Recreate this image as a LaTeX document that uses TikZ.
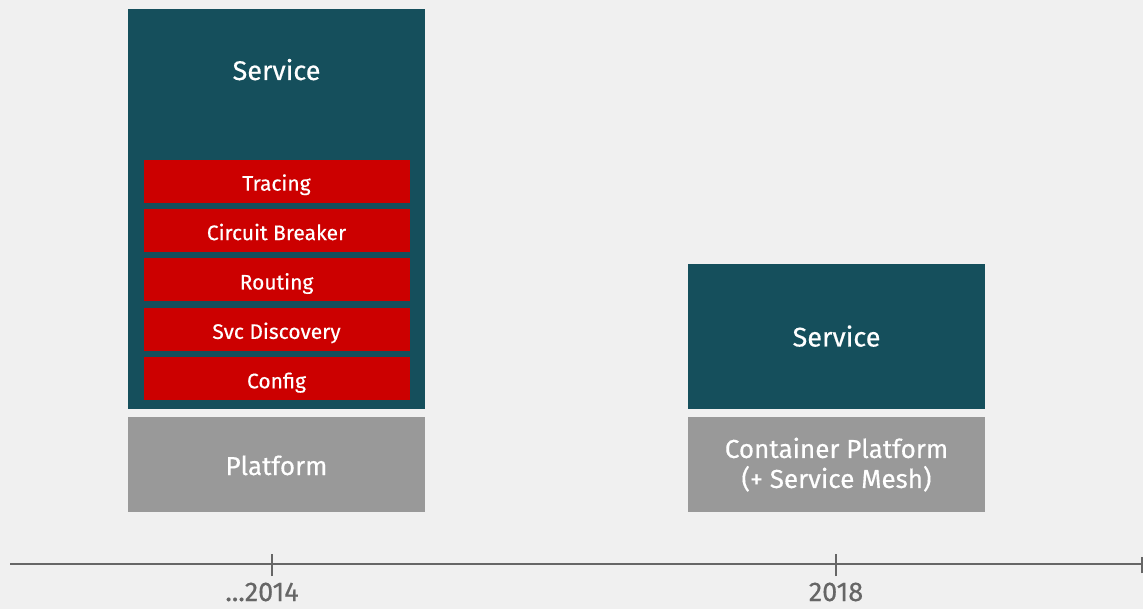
\documentclass[tikz,border=0pt]{standalone}
\usepackage{fontspec}
\setmainfont{Fira Sans}[FakeBold=0.4]
\usetikzlibrary{positioning}
\definecolor{svcteal}{HTML}{154F5C}
\definecolor{libred}{HTML}{CC0000}
\definecolor{platgray}{HTML}{999999}
\definecolor{bggray}{HTML}{F0F0F0}
\definecolor{axisgray}{HTML}{666666}
\tikzset{
	svcbox/.style={fill=svcteal, minimum width=297pt, inner sep=0pt, anchor=north},
	svctext/.style={text=white, anchor=base, font=\fontsize{27}{32}\selectfont},
	libbox/.style={fill=libred, text=white, minimum width=266pt, minimum height=43pt, inner sep=0pt, text height=19pt, text depth=0pt, font=\fontsize{21}{26}\selectfont},
	platbox/.style={fill=platgray, minimum width=297pt, minimum height=95pt, inner sep=0pt, anchor=north},
	plattext/.style={text=white, align=center, font=\fontsize{26}{30}\selectfont},
	yeartick/.style={axisgray, line width=2pt},
	yearlabel/.style={text=axisgray, anchor=base, inner sep=0pt, text depth=0pt, font=\fontsize{27}{30}\selectfont}
}
\begin{document}
\begin{tikzpicture}[x=1pt, y=-1pt]
				% background
				\fill[bggray] (0,0) rectangle (1143,609);
				\useasboundingbox (0,0) rectangle (1143,609);

				% ...2014
				\node[svcbox, minimum height=400pt] (svcold) at (276.5,9) {};
				\node[svctext] (svcoldtext) at (276.5,80) {Service};
				\node[libbox, anchor=north] (tracing) at (276.5,159.5) {Tracing};
				\node[libbox, below=6pt of tracing] (breaker) {Circuit Breaker};
				\node[libbox, below=6pt of breaker] (routing) {Routing};
				\node[libbox, below=6pt of routing] (discovery) {Svc Discovery};
				\node[libbox, below=6pt of discovery] (config) {Config};
				\node[platbox] (platold) at (276.5,417) {};
				\node[plattext, anchor=base] (platoldtext) at (276.5,475) {Platform};

				% 2018
				\node[svcbox, minimum height=145pt] (svcnew) at (836.5,264) {};
				\node[svctext] (svcnewtext) at (836.5,346.5) {Service};
				\node[platbox] (platnew) at (836.5,417) {};
				\node[plattext] (platnewtext) at (platnew) {Container Platform\\(+ Service Mesh)};

				% timeline
				\coordinate (axisstart) at (10,564);
				\coordinate (axisend) at (1142,564);
				\coordinate (tickold) at (272,564);
				\coordinate (ticknew) at (836,564);
				\draw[yeartick] (axisstart) -- (axisend);
				\draw[yeartick] ([yshift=-12pt]tickold) -- ([yshift=10pt]tickold);
				\draw[yeartick] ([yshift=-12pt]ticknew) -- ([yshift=10pt]ticknew);
				\draw[yeartick] ([yshift=-9pt]axisend) -- ([yshift=7pt]axisend);
				\node[yearlabel] (yearold) at (262,601) {...2014};
				\node[yearlabel] (yearnew) at (836,601) {2018};
			\end{tikzpicture}
\end{document}
